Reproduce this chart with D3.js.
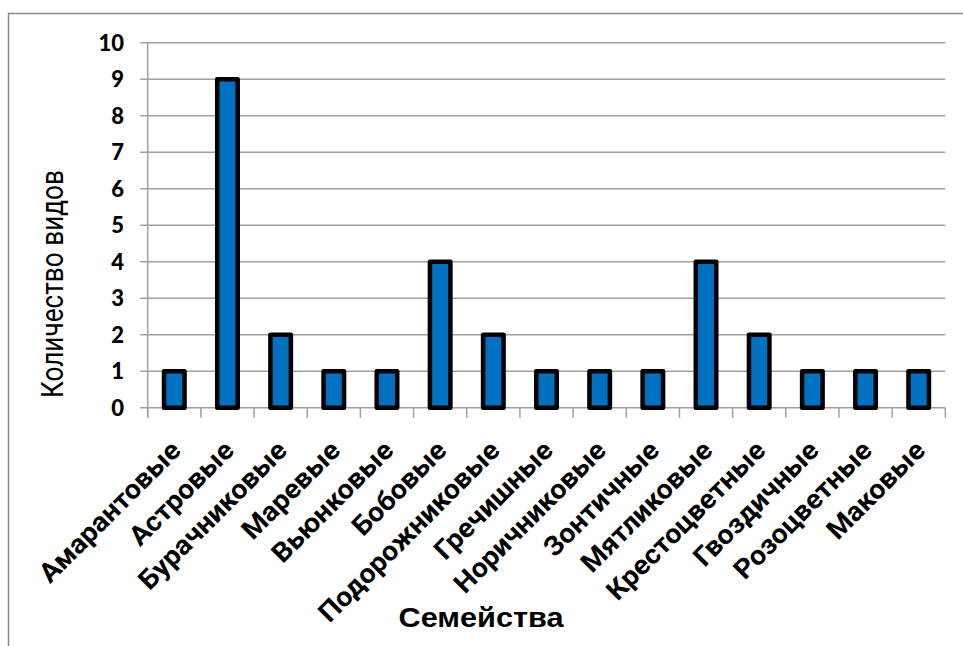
<!DOCTYPE html>
<html><head><meta charset="utf-8">
<script src="https://cdn.jsdelivr.net/npm/d3@7"></script>
<style>body{margin:0;background:#fff}svg{display:block}</style>
</head><body>
<svg id="c" width="963" height="646"></svg>
<script>
const categories = ["Амарантовые","Астровые","Бурачниковые","Маревые","Вьюнковые","Бобовые","Подорожниковые","Гречишные","Норичниковые","Зонтичные","Мятликовые","Крестоцветные","Гвоздичные","Розоцветные","Маковые"];
const values = [1,9,2,1,1,4,2,1,1,1,4,2,1,1,1];
const yTicks = [0,1,2,3,4,5,6,7,8,9,10];
const yTitle = "Количество видов";
const xTitle = "Семейства";

const svg = d3.select("#c");
const L = 147.7, R = 945.3, T = 42.8, B = 407.8;

// outer border
svg.append("rect").attr("x",8.5).attr("y",13.5).attr("width",970).attr("height",660)
  .attr("fill","none").attr("stroke","#8c8c8c").attr("stroke-width",1.5);

const x = d3.scaleBand().domain(categories).range([L,R]).padding(0);
const y = d3.scaleLinear().domain([0,10]).range([B,T]);

// gridlines
svg.append("g").selectAll("line").data(yTicks).join("line")
  .attr("x1",L-7.5).attr("x2",R).attr("y1",d=>y(d)).attr("y2",d=>y(d))
  .attr("stroke","#a0a0a0").attr("stroke-width",1.5);

// y axis line
svg.append("line").attr("x1",L).attr("x2",L).attr("y1",T).attr("y2",B+10)
  .attr("stroke","#a0a0a0").attr("stroke-width",1.5);

// x ticks at band boundaries
const bounds = categories.map(c=>x(c)).concat([R]);
svg.append("g").selectAll("line").data(bounds).join("line")
  .attr("x1",d=>d).attr("x2",d=>d).attr("y1",B).attr("y2",B+10)
  .attr("stroke","#a0a0a0").attr("stroke-width",1.5);

// y tick labels
svg.append("g").selectAll("text").data(yTicks).join("text")
  .attr("x",124).attr("y",d=>y(d)+7.8)
  .attr("text-anchor","end")
  .attr("font-family","Lato, 'Open Sans', sans-serif").attr("font-weight","900")
  .attr("font-size",22).attr("fill","#000").text(d=>d);

// bars
const bw = 20.5;
svg.append("g").selectAll("rect").data(values).join("rect")
  .attr("x",(d,i)=>x(categories[i])+x.bandwidth()/2-bw/2)
  .attr("width",bw)
  .attr("y",d=>y(d)).attr("height",d=>B-y(d))
  .attr("fill","#0070C0").attr("stroke","#000").attr("stroke-width",4.5)
  .attr("stroke-linejoin","round");

// x labels
const xl = svg.append("g").selectAll("text").data(categories).join("text")
  .attr("transform",d=>`translate(${x(d)+x.bandwidth()/2+8},452) rotate(-45)`)
  .attr("text-anchor","end")
  .attr("font-family","Roboto, 'Open Sans', sans-serif").attr("font-weight","bold")
  .attr("font-size",27).attr("fill","#000").text(d=>d);
{
  const nodes = xl.nodes();
  const wA = nodes[0].getComputedTextLength();
  const wM = nodes[nodes.length-1].getComputedTextLength();
  const k = (198 + 115) / (wA + wM);
  nodes.forEach(n=>{
    const w = n.getComputedTextLength();
    n.setAttribute("textLength", w*k);
    n.setAttribute("lengthAdjust","spacingAndGlyphs");
  });
}

// y title
svg.append("text")
  .attr("transform","translate(62.5,284) rotate(-90)")
  .attr("text-anchor","middle")
  .attr("font-family","Roboto, 'Open Sans', sans-serif")
  .attr("font-size",31).attr("fill","#000")
  .attr("textLength",228).attr("lengthAdjust","spacingAndGlyphs")
  .text(yTitle);

// x title
svg.append("text")
  .attr("x",481).attr("y",627)
  .attr("text-anchor","middle")
  .attr("font-family","'Liberation Sans', Arial, sans-serif").attr("font-weight","bold")
  .attr("font-size",27.5).attr("fill","#000")
  .attr("textLength",165).attr("lengthAdjust","spacingAndGlyphs")
  .text(xTitle);
</script>
</body></html>
